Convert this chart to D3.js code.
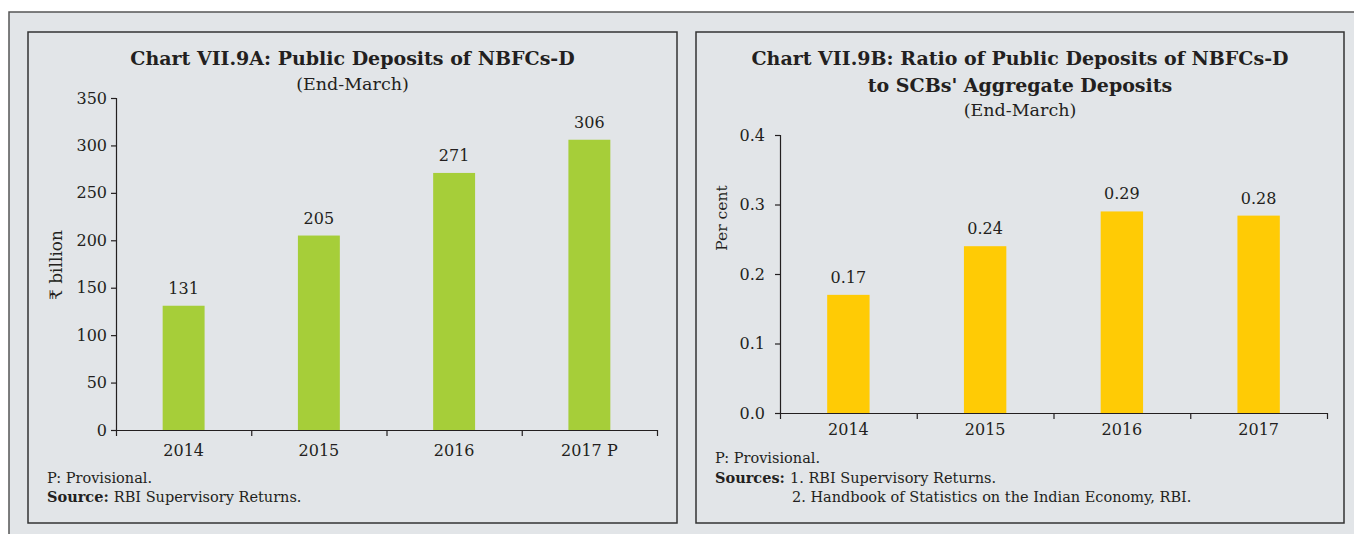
<!DOCTYPE html>
<html>
<head>
<meta charset="utf-8">
<script src="https://cdn.jsdelivr.net/npm/d3@7"></script>
<style>
  body { margin: 0; background: #fff; }
  svg text { font-family: "DejaVu Serif", "Liberation Serif", serif; fill: #231f20; }
  .axis path, .axis line { stroke: #231f20; stroke-width: 1.2; }
  .axis text { font-size: 16px; fill: #231f20; font-family: "DejaVu Serif", serif; }
</style>
</head>
<body>
<div id="chart"></div>
<script>
// chart A: public deposits (₹ billion)
var yearsA = ["2014", "2015", "2016", "2017 P"];
var depositsA = [131, 205, 271, 306];
var ticksA = [0, 50, 100, 150, 200, 250, 300, 350];

// chart B: ratio to SCBs' aggregate deposits (per cent)
var yearsB = ["2014", "2015", "2016", "2017"];
var ratioB = [0.17, 0.24, 0.29, 0.284];
var ticksB = [0.0, 0.1, 0.2, 0.3, 0.4];

var W = 1354, H = 534;

var svg = d3.select("#chart").append("svg").attr("width", W).attr("height", H);

// the grey sheet behind both panels
svg.append("rect")
    .attr("x", 9).attr("y", 12).attr("width", W + 10).attr("height", H + 10)
    .attr("fill", "#e2e5e8").attr("stroke", "#555").attr("stroke-width", 1.5);

function panel(opt) {
    var g = svg.append("g");

    g.append("rect")
        .attr("x", opt.box[0]).attr("y", opt.box[1])
        .attr("width", opt.box[2]).attr("height", opt.box[3])
        .attr("fill", "none").attr("stroke", "#333").attr("stroke-width", 1.5);

    var cx = opt.box[0] + opt.box[2] / 2;
    opt.titles.forEach(function (t, i) {
        g.append("text")
            .attr("x", cx).attr("y", opt.titleY[i])
            .attr("text-anchor", "middle")
            .attr("font-size", t.bold ? 19 : 17.5)
            .attr("font-weight", t.bold ? "bold" : "normal")
            .text(t.text);
    });

    var x = d3.scaleBand().domain(opt.cats).range([opt.x0, opt.x1]);
    var y = d3.scaleLinear().domain([0, opt.ticks[opt.ticks.length - 1]]).range([opt.y0, opt.y1]);
    var bw = x.bandwidth() * 0.31;

    // bars
    g.selectAll("rect.bar").data(opt.values).enter().append("rect")
        .attr("class", "bar")
        .attr("x", function (d, i) { return x(opt.cats[i]) + (x.bandwidth() - bw) / 2; })
        .attr("y", function (d) { return y(d); })
        .attr("width", bw)
        .attr("height", function (d) { return y(0) - y(d); })
        .attr("fill", opt.color);

    // value labels
    g.selectAll("text.val").data(opt.values).enter().append("text")
        .attr("class", "val")
        .attr("x", function (d, i) { return x(opt.cats[i]) + x.bandwidth() / 2; })
        .attr("y", function (d) { return y(d) - 12; })
        .attr("text-anchor", "middle")
        .attr("font-size", 16)
        .text(function (d) { return opt.fmt(d); });

    // y axis
    g.append("g").attr("class", "axis")
        .attr("transform", "translate(" + opt.x0 + ",0)")
        .call(d3.axisLeft(y).tickValues(opt.ticks).tickFormat(opt.tickFmt).tickSize(5).tickSizeOuter(5).tickPadding(opt.tickPad));

    // x axis: ticks at band edges, labels at band centres
    var edge = d3.scaleLinear().domain([0, opt.cats.length]).range([opt.x0, opt.x1]);
    g.append("g").attr("class", "axis")
        .attr("transform", "translate(0," + opt.y0 + ")")
        .call(d3.axisBottom(edge).tickValues(d3.range(opt.cats.length + 1)).tickFormat("").tickSize(6).tickSizeOuter(0));

    g.selectAll("text.cat").data(opt.cats).enter().append("text")
        .attr("class", "cat")
        .attr("x", function (d) { return x(d) + x.bandwidth() / 2; })
        .attr("y", opt.y0 + opt.catDy)
        .attr("text-anchor", "middle")
        .attr("font-size", 16)
        .text(function (d) { return d; });

    // y label
    g.append("text")
        .attr("transform", "translate(" + opt.yLab[0] + "," + opt.yLab[1] + ") rotate(-90)")
        .attr("text-anchor", "middle")
        .attr("font-size", opt.yLabSize)
        .text(opt.yTitle);

    // notes
    opt.notes.forEach(function (n) {
        var t = g.append("text").attr("x", n.x).attr("y", n.y).attr("font-size", 14.5);
        if (n.bold) t.append("tspan").attr("font-weight", "bold").text(n.bold);
        t.append("tspan").text(n.text);
    });
}

panel({
    box: [28, 32, 649, 491],
    titles: [{ text: "Chart VII.9A: Public Deposits of NBFCs-D", bold: true }, { text: "(End-March)" }],
    titleY: [65, 90],
    cats: yearsA, values: depositsA, ticks: ticksA,
    x0: 116, x1: 657, y0: 430, y1: 98,
    color: "#a6ce39",
    fmt: d3.format("d"), tickFmt: d3.format("d"), tickPad: 4,
    catDy: 26,
    yTitle: "₹ billion", yLab: [62, 265], yLabSize: 17,
    notes: [
        { x: 47, y: 483, text: "P: Provisional." },
        { x: 47, y: 502, bold: "Source: ", text: "RBI Supervisory Returns." }
    ]
});

panel({
    box: [696, 32, 648, 491],
    titles: [
        { text: "Chart VII.9B: Ratio of Public Deposits of NBFCs-D", bold: true },
        { text: "to SCBs' Aggregate Deposits", bold: true },
        { text: "(End-March)" }
    ],
    titleY: [65, 92, 116],
    cats: yearsB, values: ratioB, ticks: ticksB,
    x0: 780, x1: 1327, y0: 413, y1: 135,
    color: "#ffcb05",
    fmt: d3.format(".2f"), tickFmt: d3.format(".1f"), tickPad: 10,
    catDy: 22,
    yTitle: "Per cent", yLab: [727, 218], yLabSize: 15.5,
    notes: [
        { x: 715, y: 463, text: "P: Provisional." },
        { x: 715, y: 483, bold: "Sources: ", text: " 1. RBI Supervisory Returns." },
        { x: 792, y: 502, text: "2. Handbook of Statistics on the Indian Economy, RBI." }
    ]
});
</script>
</body>
</html>
